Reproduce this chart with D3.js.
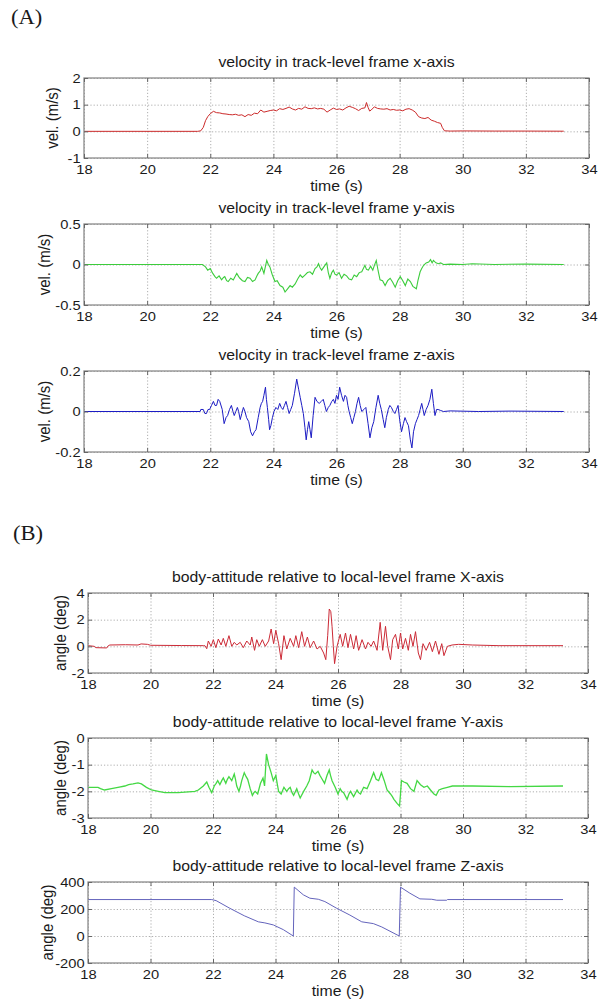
<!DOCTYPE html>
<html>
<head>
<meta charset="utf-8">
<script src="https://cdn.jsdelivr.net/npm/d3@7"></script>
<style>
  body { margin: 0; background: #fff; }
  svg text { font-family: "Liberation Sans", Arial, sans-serif; fill: #1a1a1a; }
  .grid line { stroke: #9a9a9a; stroke-dasharray: 1.2 2; stroke-width: 0.8; }
  .grid path { display: none; }
  .ax path { display: none; }
  .ax line { stroke: #666; }
</style>
</head>
<body>
<div id="chart"></div>
<script>
/* track-level velocity + body attitude, six stacked panels (MATLAB style) */

// x axis shared by all panels
const timeTicks = [18, 20, 22, 24, 26, 28, 30, 32, 34];

// y tick values per panel
const velXTicks = [-1, 0, 1, 2];
const velYTicks = [-0.5, 0, 0.5];
const velZTicks = [-0.2, 0, 0.2];
const attXTicks = [-2, 0, 2, 4];
const attYTicks = [-3, -2, -1, 0];
const attZTicks = [-200, 0, 200, 400];

// series, [time (s), value]
const velX = [[18,0],[21.6,0],[21.7,0.02],[21.78,0.15],[21.85,0.4],[21.92,0.55],[22.0,0.66],[22.1,0.75],[22.2,0.7],[22.3,0.69],
  [22.4,0.66],[22.5,0.65],[22.6,0.63],[22.7,0.62],[22.8,0.64],[22.9,0.6],[23.0,0.62],[23.1,0.55],[23.2,0.63],[23.3,0.6],
  [23.4,0.68],[23.5,0.66],[23.6,0.8],[23.7,0.72],[23.8,0.75],[23.9,0.78],[24.0,0.8],[24.1,0.77],[24.2,0.85],[24.3,0.82],
  [24.4,0.86],[24.5,0.91],[24.6,0.84],[24.7,0.8],[24.8,0.86],[24.9,0.83],[25.0,0.92],[25.1,0.86],[25.2,0.85],[25.3,0.88],
  [25.4,0.84],[25.5,0.86],[25.6,0.83],[25.7,0.72],[25.8,0.8],[25.9,0.87],[26.0,0.82],[26.1,0.84],[26.2,0.8],[26.3,0.88],
  [26.4,0.94],[26.5,0.9],[26.6,0.85],[26.7,0.78],[26.8,0.86],[26.9,0.88],[26.95,1.08],[27.0,0.9],[27.05,0.76],[27.1,0.8],
  [27.2,0.92],[27.3,0.86],[27.4,0.84],[27.5,0.83],[27.6,0.85],[27.7,0.8],[27.8,0.82],[27.9,0.79],[28.0,0.8],[28.1,0.77],
  [28.2,0.83],[28.3,0.85],[28.4,0.8],[28.5,0.72],[28.6,0.55],[28.7,0.5],[28.8,0.48],[28.9,0.52],[29.0,0.42],[29.1,0.38],
  [29.2,0.33],[29.3,0.3],[29.35,0.15],[29.42,0.02],[29.6,0.01],[30.0,0.015],[31.0,0.01],[32.0,0.01],[33.2,0.005]];

const velY = [[18,0],[21.75,0],[21.85,-0.03],[21.92,-0.07],[22.0,-0.05],[22.08,-0.11],[22.15,-0.15],[22.2,-0.17],[22.28,-0.14],
  [22.36,-0.19],[22.42,-0.16],[22.46,-0.15],[22.52,-0.2],[22.57,-0.21],[22.65,-0.17],[22.73,-0.19],[22.8,-0.14],[22.84,-0.11],
  [22.9,-0.15],[22.94,-0.17],[23.02,-0.2],[23.1,-0.21],[23.18,-0.16],[23.26,-0.17],[23.34,-0.21],[23.42,-0.19],[23.48,-0.14],
  [23.52,-0.11],[23.58,-0.08],[23.63,-0.03],[23.7,-0.11],[23.75,-0.02],[23.79,0.05],[23.84,0.0],[23.89,-0.03],[23.96,-0.12],
  [24.05,-0.21],[24.12,-0.2],[24.21,-0.26],[24.3,-0.28],[24.37,-0.34],[24.45,-0.3],[24.53,-0.26],[24.6,-0.28],[24.69,-0.24],
  [24.77,-0.18],[24.85,-0.13],[24.92,-0.16],[25.0,-0.13],[25.08,-0.1],[25.16,-0.09],[25.24,-0.12],[25.32,-0.05],[25.38,-0.03],
  [25.43,0.01],[25.48,-0.04],[25.53,-0.07],[25.6,-0.03],[25.69,0.02],[25.74,-0.1],[25.79,-0.17],[25.85,-0.1],[25.9,-0.07],
  [25.95,-0.12],[26.0,-0.13],[26.08,-0.1],[26.16,-0.17],[26.24,-0.12],[26.32,-0.14],[26.4,-0.18],[26.48,-0.19],[26.56,-0.13],
  [26.64,-0.15],[26.72,-0.1],[26.8,-0.09],[26.9,-0.01],[26.95,-0.06],[27.01,-0.07],[27.08,-0.02],[27.15,-0.07],[27.2,-0.01],
  [27.26,0.05],[27.32,-0.08],[27.38,-0.19],[27.46,-0.2],[27.54,-0.26],[27.62,-0.2],[27.7,-0.17],[27.78,-0.22],[27.86,-0.28],
  [27.94,-0.2],[28.02,-0.15],[28.1,-0.2],[28.18,-0.26],[28.26,-0.18],[28.34,-0.21],[28.42,-0.27],[28.53,-0.3],[28.58,-0.2],
  [28.65,-0.09],[28.7,-0.05],[28.76,-0.01],[28.84,0.02],[28.92,0.03],[28.98,0.06],[29.03,0.02],[29.07,0.05],[29.15,0.02],
  [29.23,0.01],[29.3,0.02],[29.39,0.0],[29.6,0.005],[30.0,0.0],[30.3,0.01],[31.0,0.0],[32.0,0.005],[33.2,0.0]];

const velZ = [[18,0],[21.68,0],[21.7,0.01],[21.78,0.01],[21.83,-0.01],[21.88,-0.01],[21.93,0.01],[21.98,0.01],[22.04,0.03],
  [22.1,0.05],[22.15,0.03],[22.2,0.03],[22.25,0.06],[22.3,0.05],[22.38,0.01],[22.44,-0.06],[22.5,-0.03],[22.55,-0.02],
  [22.61,0.01],[22.67,0.03],[22.72,0.0],[22.76,-0.02],[22.81,0.0],[22.86,0.02],[22.9,0.0],[22.95,-0.04],[23.0,-0.01],
  [23.05,0.02],[23.1,0.0],[23.15,-0.03],[23.22,-0.05],[23.28,-0.1],[23.34,-0.12],[23.4,-0.1],[23.45,-0.09],[23.52,-0.03],
  [23.58,0.02],[23.62,0.04],[23.66,0.05],[23.7,0.08],[23.75,0.12],[23.78,0.06],[23.81,0.02],[23.85,-0.04],[23.88,-0.09],
  [23.92,-0.07],[23.97,-0.03],[24.02,0.0],[24.08,0.02],[24.14,0.01],[24.2,0.04],[24.25,0.02],[24.3,0.01],[24.35,0.03],
  [24.4,0.05],[24.45,0.02],[24.5,-0.01],[24.55,0.01],[24.6,0.03],[24.67,0.09],[24.74,0.16],[24.8,0.11],[24.85,0.07],
  [24.9,0.03],[24.95,-0.01],[25.0,-0.08],[25.04,-0.14],[25.08,-0.09],[25.12,-0.05],[25.16,-0.09],[25.2,-0.13],[25.26,-0.02],
  [25.32,0.07],[25.38,0.05],[25.45,0.04],[25.52,0.05],[25.58,0.06],[25.63,0.03],[25.68,0.0],[25.74,0.02],[25.79,0.03],
  [25.85,0.05],[25.9,0.06],[25.95,0.04],[26.0,0.08],[26.05,0.06],[26.1,0.12],[26.16,0.08],[26.22,0.05],[26.27,0.08],
  [26.32,0.07],[26.36,0.03],[26.4,0.0],[26.45,-0.03],[26.5,-0.06],[26.55,-0.03],[26.6,0.0],[26.65,0.04],[26.7,0.07],
  [26.75,0.03],[26.8,0.0],[26.87,0.01],[26.93,0.02],[27.0,-0.06],[27.06,-0.13],[27.12,-0.08],[27.18,-0.05],[27.25,0.02],
  [27.32,0.08],[27.37,0.04],[27.42,0.01],[27.48,-0.04],[27.53,-0.08],[27.58,-0.03],[27.64,0.01],[27.69,0.03],[27.74,0.02],
  [27.8,0.0],[27.85,-0.01],[27.9,0.01],[27.95,0.03],[28.0,-0.04],[28.06,-0.1],[28.12,-0.06],[28.17,-0.03],[28.22,-0.05],
  [28.28,-0.07],[28.34,-0.14],[28.39,-0.18],[28.44,-0.1],[28.5,-0.06],[28.55,-0.04],[28.6,-0.02],[28.65,0.01],[28.7,0.04],
  [28.74,0.01],[28.78,-0.02],[28.84,0.01],[28.9,0.03],[28.96,0.06],[29.02,0.11],[29.07,0.04],[29.12,-0.02],[29.17,0.01],
  [29.22,0.01],[29.3,0.005],[29.39,0.0],[29.6,0.003],[30.5,0.0],[31.5,0.002],[33.2,0.0]];

const attX = [[18,0.05],[18.2,0.0],[18.25,-0.1],[18.6,-0.12],[18.65,0.05],[18.7,0.1],[19.2,0.12],[19.6,0.1],[19.7,0.18],
  [19.9,0.15],[20.0,0.08],[21.0,0.06],[21.7,0.05],[21.74,0.05],[21.8,-0.18],[21.85,0.4],[21.94,0.0],[22.01,0.5],[22.09,-0.1],
  [22.17,0.55],[22.26,0.1],[22.33,0.6],[22.41,0.0],[22.51,0.8],[22.6,0.0],[22.68,0.3],[22.76,0.1],[22.87,0.3],[22.97,-0.1],
  [23.08,0.4],[23.19,0.1],[23.24,0.7],[23.33,-0.3],[23.4,0.5],[23.48,0.0],[23.58,0.5],[23.67,0.0],[23.78,0.4],[23.86,1.3],
  [23.94,0.2],[24.01,1.2],[24.1,0.2],[24.18,-1.0],[24.27,0.8],[24.36,-0.2],[24.47,0.6],[24.58,0.0],[24.65,0.8],[24.74,-0.1],
  [24.84,1.1],[24.93,0.0],[25.02,0.7],[25.11,-0.1],[25.22,0.4],[25.33,-0.2],[25.43,0.0],[25.54,-0.5],[25.61,-1.0],[25.67,0.8],
  [25.72,2.8],[25.77,2.6],[25.81,1.5],[25.85,0.0],[25.89,-1.3],[25.97,0.0],[26.07,0.9],[26.15,0.0],[26.24,1.0],[26.32,-0.1],
  [26.4,0.9],[26.5,-0.2],[26.58,0.8],[26.66,-0.3],[26.77,0.5],[26.88,-0.2],[26.96,0.3],[27.06,0.0],[27.14,0.4],[27.25,-0.3],
  [27.35,1.8],[27.43,-0.3],[27.52,1.5],[27.59,0.0],[27.68,-1.0],[27.75,0.5],[27.84,0.9],[27.93,-0.2],[28.0,1.0],[28.07,-0.2],
  [28.16,0.6],[28.25,-0.3],[28.32,0.9],[28.4,0.0],[28.48,1.1],[28.57,-0.5],[28.64,-1.0],[28.72,0.2],[28.82,-0.3],[28.93,0.3],
  [29.02,-0.4],[29.12,0.4],[29.23,-0.6],[29.32,0.2],[29.39,-0.7],[29.5,0.0],[29.65,0.1],[29.86,0.15],[30.3,0.1],[31.15,0.05],
  [33.2,0.05]];

const attY = [[18,-1.85],[18.32,-1.85],[18.4,-1.9],[18.53,-1.95],[18.75,-1.9],[18.96,-1.85],[19.18,-1.8],[19.3,-1.75],
  [19.44,-1.72],[19.6,-1.68],[19.71,-1.72],[19.87,-1.85],[20.03,-1.95],[20.25,-2.0],[20.46,-2.05],[20.89,-2.05],[21.42,-2.0],
  [21.53,-1.95],[21.69,-1.8],[21.8,-1.65],[21.87,-1.85],[21.96,-2.05],[22.04,-1.8],[22.1,-1.7],[22.15,-1.6],[22.22,-1.75],
  [22.28,-1.6],[22.33,-1.5],[22.41,-1.7],[22.46,-1.55],[22.51,-1.45],[22.6,-1.6],[22.68,-1.35],[22.72,-1.55],[22.76,-1.8],
  [22.83,-2.0],[22.88,-1.8],[22.92,-1.6],[23.0,-1.3],[23.06,-1.45],[23.11,-1.55],[23.19,-1.9],[23.26,-2.15],[23.31,-2.05],
  [23.35,-2.0],[23.43,-2.1],[23.52,-1.7],[23.6,-1.5],[23.65,-1.8],[23.71,-0.6],[23.78,-1.0],[23.86,-1.3],[23.93,-1.6],
  [24.01,-1.4],[24.06,-1.75],[24.1,-2.0],[24.18,-2.1],[24.27,-1.85],[24.36,-2.0],[24.42,-1.9],[24.47,-1.85],[24.53,-2.05],
  [24.58,-2.15],[24.68,-1.9],[24.74,-2.1],[24.79,-2.25],[24.9,-2.0],[25.0,-1.8],[25.08,-1.6],[25.17,-1.2],[25.22,-1.3],
  [25.27,-1.35],[25.36,-1.25],[25.42,-1.4],[25.47,-1.5],[25.57,-1.7],[25.65,-1.4],[25.72,-1.2],[25.76,-1.4],[25.81,-1.6],
  [25.91,-1.85],[26.0,-2.1],[26.07,-1.9],[26.12,-2.0],[26.18,-2.05],[26.29,-2.3],[26.35,-2.1],[26.4,-2.0],[26.5,-2.2],
  [26.61,-1.95],[26.66,-2.05],[26.72,-2.1],[26.82,-1.85],[26.93,-1.9],[27.04,-1.6],[27.14,-1.3],[27.22,-1.55],[27.3,-1.6],
  [27.39,-1.3],[27.48,-1.6],[27.57,-1.95],[27.68,-2.1],[27.74,-2.2],[27.79,-2.3],[27.89,-2.45],[27.97,-2.55],[28.0,-2.1],
  [28.03,-1.6],[28.11,-1.65],[28.21,-1.7],[28.32,-1.9],[28.43,-2.0],[28.53,-1.6],[28.64,-1.75],[28.75,-1.85],[28.86,-1.8],
  [28.96,-1.95],[29.07,-2.1],[29.14,-2.15],[29.23,-1.95],[29.34,-1.9],[29.5,-1.85],[29.66,-1.8],[30.3,-1.8],[31.5,-1.82],
  [33.2,-1.8]];

const attZ = [[18,270],[21.96,270],[22.1,262],[22.54,205],[23.0,150],[23.45,105],[23.66,97],[23.93,82],[24.25,47],[24.57,0],
  [24.6,362],[24.89,305],[25.1,280],[25.37,272],[25.58,255],[25.96,205],[26.38,155],[26.76,105],[27.13,92],[27.4,67],
  [27.96,0],[28.0,362],[28.3,317],[28.62,275],[29.0,272],[29.16,265],[29.48,265],[29.5,270],[33.2,270]];

const width = 603, height = 999;
const stretch = 1.13; // source figure is a bit wider than tall

const svg = d3.select("#chart")
  .append("svg")
  .attr("width", width)
  .attr("height", height);

const panels = [
  { title: "velocity in track-level frame x-axis", ylab: "vel. (m/s)", data: velX, ticks: velXTicks, color: "#cc2a2a",
    left: 84, right: 589, top: 78, bottom: 158, labX: 52, lw: 1 },
  { title: "velocity in track-level frame y-axis", ylab: "vel. (m/s)", data: velY, ticks: velYTicks, color: "#3ccc3c",
    left: 84, right: 589, top: 224, bottom: 305, labX: 44, lw: 1.1 },
  { title: "velocity in track-level frame z-axis", ylab: "vel. (m/s)", data: velZ, ticks: velZTicks, color: "#1c1cc4",
    left: 84, right: 589, top: 371, bottom: 452, labX: 44, lw: 1 },
  { title: "body-attitude relative to local-level frame X-axis", ylab: "angle (deg)", data: attX, ticks: attXTicks, color: "#cc2a36",
    left: 88, right: 588, top: 593, bottom: 673, labX: 60, lw: 1 },
  { title: "body-attitude relative to local-level frame Y-axis", ylab: "angle (deg)", data: attY, ticks: attYTicks, color: "#44d844",
    left: 88, right: 588, top: 738, bottom: 818, labX: 60, lw: 1.3 },
  { title: "body-attitude relative to local-level frame Z-axis", ylab: "angle (deg)", data: attZ, ticks: attZTicks, color: "#6464bc",
    left: 88, right: 588, top: 882, bottom: 963, labX: 47, lw: 1 }
];

// text squeezed/stretched like the source figure
function label(x, y, str, size, rot) {
  const g = svg.append("g")
    .attr("transform", `translate(${x},${y}) scale(${stretch},1)` + (rot ? ` rotate(${rot})` : ""));
  return g.append("text")
    .attr("text-anchor", "middle")
    .attr("dy", "0.35em")
    .style("font-size", size + "px")
    .text(str);
}

function drawPanel(p) {
  const x = d3.scaleLinear().domain([18, 34]).range([p.left, p.right]);
  const y = d3.scaleLinear().domain(d3.extent(p.ticks)).range([p.bottom, p.top]);
  const w = p.right - p.left, h = p.bottom - p.top;

  // dotted grid
  svg.append("g").attr("class", "grid")
    .attr("transform", `translate(0,${p.bottom})`)
    .call(d3.axisBottom(x).tickValues(timeTicks).tickSize(-h).tickFormat(""));
  svg.append("g").attr("class", "grid")
    .attr("transform", `translate(${p.left},0)`)
    .call(d3.axisLeft(y).tickValues(p.ticks).tickSize(-w).tickFormat(""));

  svg.append("path")
    .datum(p.data)
    .attr("fill", "none")
    .attr("stroke", p.color)
    .attr("stroke-width", p.lw)
    .attr("d", d3.line().x(d => x(d[0])).y(d => y(d[1])));

  svg.append("rect")
    .attr("x", p.left).attr("y", p.top)
    .attr("width", w).attr("height", h)
    .attr("fill", "none")
    .attr("stroke", "#8c8c8c")
    .attr("stroke-width", 1.3);

  // inward ticks on all four sides, labels on bottom + left
  const bottom = svg.append("g").attr("class", "ax")
    .attr("transform", `translate(0,${p.bottom})`)
    .call(d3.axisBottom(x).tickValues(timeTicks).tickSizeInner(-4).tickSizeOuter(0).tickPadding(7).tickFormat(d => String(d)));
  const left = svg.append("g").attr("class", "ax")
    .attr("transform", `translate(${p.left},0)`)
    .call(d3.axisLeft(y).tickValues(p.ticks).tickSizeInner(-4).tickSizeOuter(0).tickPadding(3).tickFormat(d => String(d)));
  svg.append("g").attr("class", "ax")
    .attr("transform", `translate(0,${p.top})`)
    .call(d3.axisTop(x).tickValues(timeTicks).tickSizeInner(-4).tickSizeOuter(0).tickFormat(""));
  svg.append("g").attr("class", "ax")
    .attr("transform", `translate(${p.right},0)`)
    .call(d3.axisRight(y).tickValues(p.ticks).tickSizeInner(-4).tickSizeOuter(0).tickFormat(""));

  [bottom, left].forEach(a => a.selectAll("text")
    .attr("transform", `scale(${stretch},1)`)
    .style("font-size", "13px")
    .style("font-family", "'Liberation Sans', Arial, sans-serif")
    .attr("fill", "#333"));

  const cx = (p.left + p.right) / 2;
  label(cx, p.top - 16, p.title, 14);
  label(cx, p.bottom + 28, "time (s)", 14);
  label(p.labX, (p.top + p.bottom) / 2, p.ylab, 15, -90);
}

panels.forEach(drawPanel);

// panel letters
[["(A)", 11, 24], ["(B)", 13, 540]].forEach(([s, px, py]) => {
  svg.append("g")
    .attr("transform", `translate(${px},${py}) scale(${stretch},1)`)
    .append("text")
    .style("font-family", "'Liberation Serif', 'Times New Roman', serif")
    .style("font-size", "20px")
    .attr("fill", "#111")
    .text(s);
});
</script>
</body>
</html>
